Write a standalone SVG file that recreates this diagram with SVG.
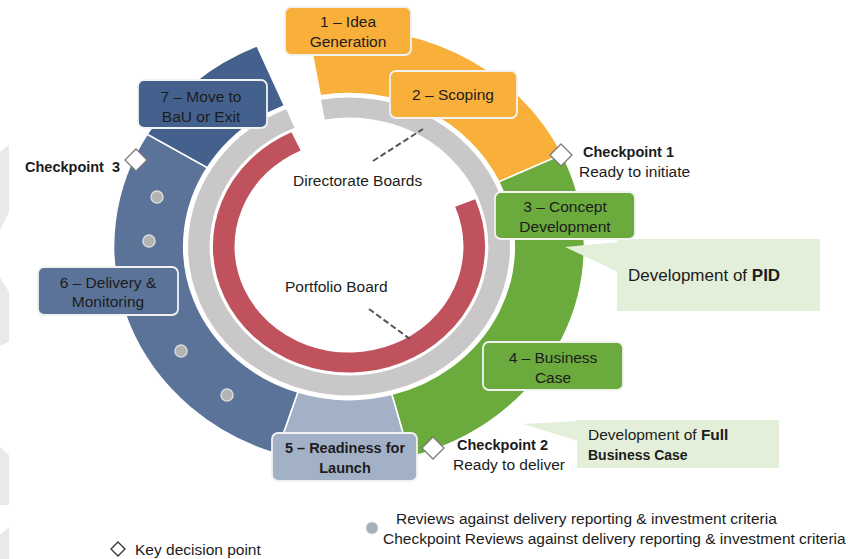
<svg xmlns="http://www.w3.org/2000/svg" width="866" height="559" viewBox="0 0 866 559">
<style>
text{font-family:"Liberation Sans",Arial,sans-serif;fill:#1c1c1c;font-size:15.5px}
.c{text-anchor:middle}
.b{font-weight:bold}
.box{stroke:#f2f2f2;stroke-width:1.8}
.seg{stroke:#ffffff;stroke-width:1.5}
.org{fill:#F9B03B}
.grn{fill:#6BAA3C}
.s5{fill:#A3B1C6}
.s6{fill:#5B7399}
.s7{fill:#44618D}
.call{fill:#E3EFD9}
.dot{fill:#B3B3B3;stroke:#DADADA;stroke-width:1.5}
.dia{fill:#ffffff;stroke:#7a7a7a;stroke-width:1.3}
.dash{stroke:#555;stroke-width:2;stroke-dasharray:6,3;fill:none}
.bg{fill:#E9E9E9}
</style>
<rect width="866" height="559" fill="#ffffff"/>
<g id="background">
<polygon class="bg" points="0,152 9,145 9,212 0,230"/>
<polygon class="bg" points="0,277 9,292 9,342 0,346"/>
<polygon class="bg" points="0,447 9,455 9,505 0,505"/>
<polygon class="bg" points="0,535 9,527 9,559 0,559"/>
</g>
<g id="rings" transform="translate(349,246.5) scale(1.08,1)">
<path class="seg org" d="M -37.86,-214.69 A 218 218 0 0 1 197.58,-92.13 L 138.67,-64.66 A 153 153 0 0 0 -26.57,-150.68 Z"/>
<path class="seg grn" d="M 197.58,-92.13 A 218 218 0 0 1 56.42,210.57 L 39.60,147.79 A 153 153 0 0 0 138.67,-64.66 Z"/>
<path class="seg s5" d="M 56.42,210.57 A 218 218 0 0 1 -67.37,207.33 L -47.28,145.51 A 153 153 0 0 0 39.60,147.79 Z"/>
<path class="seg s6" d="M -67.37,207.33 A 218 218 0 0 1 -186.86,-112.28 L -131.15,-78.80 A 153 153 0 0 0 -47.28,145.51 Z"/>
<path class="seg s7" d="M -186.86,-112.28 A 218 218 0 0 1 -85.18,-200.67 L -59.78,-140.84 A 153 153 0 0 0 -131.15,-78.80 Z"/>
<path d="M -24.14,-136.89 A 139 139 0 1 1 -54.31,-127.95" fill="none" stroke="#C9C7C7" stroke-width="20"/>
<path d="M 107.55,-43.45 A 116 116 0 1 1 -49.02,-105.13" fill="none" stroke="#C0525D" stroke-width="20"/>
</g>
<g id="connectors">
<line class="dash" x1="373" y1="161" x2="423" y2="129"/>
<line class="dash" x1="369" y1="309" x2="410" y2="339"/>
</g>
<g id="review-dots">
<circle class="dot" cx="157" cy="197" r="6"/>
<circle class="dot" cx="149" cy="241" r="6"/>
<circle class="dot" cx="181" cy="351" r="6"/>
<circle class="dot" cx="227" cy="395" r="6"/>
</g>
<g id="callout-pid">
<polygon class="call" points="565,247 618,242 618,272"/>
<rect class="call" x="617" y="239" width="203" height="72"/>
<text x="628" y="281" style="font-size:17px">Development of <tspan class="b">PID</tspan></text>
</g>
<g id="callout-fbc">
<polygon class="call" points="523,424 578,421 578,441"/>
<rect class="call" x="577" y="420" width="202" height="48"/>
<text x="588" y="440">Development of <tspan class="b">Full</tspan></text>
<text class="b" x="588" y="460" style="font-size:14px">Business Case</text>
</g>
<g id="stage1">
<rect class="box org" x="285" y="7" width="126" height="48" rx="6"/>
<text class="c" x="348" y="27">1 – Idea</text>
<text class="c" x="348" y="47">Generation</text>
</g>
<g id="stage2">
<rect class="box org" x="390" y="71" width="127" height="47" rx="6"/>
<text class="c" x="453" y="100">2 – Scoping</text>
</g>
<g id="stage3">
<rect class="box grn" x="495" y="192" width="140" height="47" rx="6"/>
<text class="c" x="565" y="212">3 – Concept</text>
<text class="c" x="565" y="232">Development</text>
</g>
<g id="stage4">
<rect class="box grn" x="483" y="342" width="140" height="48" rx="6"/>
<text class="c" x="553" y="363">4 – Business</text>
<text class="c" x="553" y="383">Case</text>
</g>
<g id="stage5">
<rect class="box s5" x="272" y="433" width="145" height="48" rx="6"/>
<text class="c b" x="345" y="453" style="font-size:14.5px">5 – Readiness for</text>
<text class="c b" x="345" y="473" style="font-size:14.5px">Launch</text>
</g>
<g id="stage6">
<rect class="box s6" x="38" y="267" width="140" height="48" rx="6"/>
<text class="c" x="108" y="288">6 – Delivery &amp;</text>
<text class="c" x="108" y="307">Monitoring</text>
</g>
<g id="stage7">
<rect class="box s7" x="138" y="80" width="129" height="48" rx="6"/>
<text class="c" x="201" y="102">7 – Move to</text>
<text class="c" x="201" y="122">BaU or Exit</text>
</g>
<g id="checkpoint1">
<polygon class="dia" points="561,144 572,155 561,166 550,155"/>
<text class="b" x="583" y="157" style="font-size:14.5px">Checkpoint 1</text>
<text x="579" y="177">Ready to initiate</text>
</g>
<g id="checkpoint2">
<polygon class="dia" points="433,437 444,448 433,459 422,448"/>
<text class="b" x="457" y="450" style="font-size:14.5px">Checkpoint 2</text>
<text x="453" y="470">Ready to deliver</text>
</g>
<g id="checkpoint3">
<polygon class="dia" points="136,149 147,160 136,171 125,160"/>
<text class="b" x="25" y="172" style="font-size:14.5px" xml:space="preserve">Checkpoint  3</text>
</g>
<g id="board-labels">
<text x="293" y="186">Directorate Boards</text>
<text x="285" y="292">Portfolio Board</text>
</g>
<g id="legend">
<polygon points="118,542 125,549 118,556 111,549" fill="#ffffff" stroke="#333" stroke-width="1.3"/>
<text x="135" y="555">Key decision point</text>
<circle cx="372" cy="528" r="6" fill="#A7AFB8" stroke="#D5D9DD" stroke-width="1"/>
<text x="396" y="524">Reviews against delivery reporting &amp; investment criteria</text>
<text x="383" y="544">Checkpoint Reviews against delivery reporting &amp; investment criteria</text>
</g>
</svg>
